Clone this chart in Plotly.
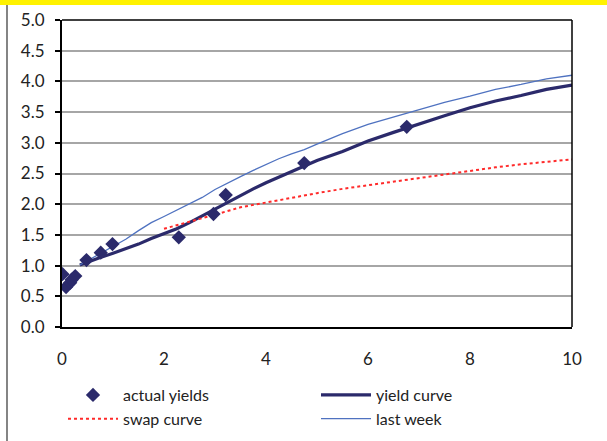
import plotly.graph_objects as go

# actual yields (scatter points)
actual_x = [0.01, 0.08, 0.16, 0.19, 0.26, 0.48, 0.76, 0.99, 2.29, 2.97, 3.21, 4.75, 6.76]
actual_y = [0.86, 0.65, 0.72, 0.77, 0.83, 1.09, 1.21, 1.35, 1.46, 1.84, 2.15, 2.67, 3.26]

# fitted yield curve
curve_x = [0.35, 0.5, 0.75, 1.0, 1.25, 1.5, 1.75, 2.0, 2.25, 2.5, 2.75, 3.0, 3.25, 3.5, 3.75,
           4.0, 4.25, 4.5, 4.75, 5.0, 5.5, 6.0, 6.5, 7.0, 7.5, 8.0, 8.5, 9.0, 9.5, 10.0]
yield_curve = [1.01, 1.06, 1.13, 1.20, 1.27, 1.35, 1.44, 1.52, 1.60, 1.70, 1.81, 1.92, 2.04, 2.15, 2.25,
               2.35, 2.44, 2.53, 2.63, 2.71, 2.86, 3.03, 3.17, 3.31, 3.44, 3.57, 3.68, 3.77, 3.87, 3.94]
last_week = [1.01, 1.08, 1.20, 1.31, 1.43, 1.57, 1.70, 1.80, 1.90, 2.00, 2.11, 2.24, 2.35, 2.45, 2.55,
             2.65, 2.74, 2.82, 2.89, 2.98, 3.15, 3.30, 3.42, 3.55, 3.66, 3.76, 3.87, 3.95, 4.04, 4.10]

# swap curve
swap_x = [2.0, 2.5, 3.0, 3.5, 4.0, 4.5, 5.0, 5.5, 6.0, 6.5, 7.0, 7.5, 8.0, 8.5, 9.0, 9.5, 10.0]
swap_y = [1.60, 1.71, 1.83, 1.95, 2.03, 2.10, 2.18, 2.25, 2.31, 2.37, 2.43, 2.48, 2.54, 2.60, 2.65, 2.69, 2.73]

x_ticks = [0, 2, 4, 6, 8, 10]
y_ticks = [0.0, 0.5, 1.0, 1.5, 2.0, 2.5, 3.0, 3.5, 4.0, 4.5, 5.0]

NAVY = "#2B2A6B"
FONT = "Lato"
TXT = "#222222"

W, H = 607, 441
ML, MR, MT, MB = 62, 35, 20, 114
W_plot = W - ML - MR
H_plot = H - MT - MB


def px_to_paper_x(px):
    return (px - ML) / W_plot


def px_to_paper_y(py):
    return (H - MB - py) / H_plot


fig = go.Figure()
fig.add_trace(go.Scatter(x=curve_x, y=yield_curve, mode="lines", name="yield curve",
                         line=dict(color=NAVY, width=3.2), legend="legend2", legendrank=1))
fig.add_trace(go.Scatter(x=swap_x, y=swap_y, mode="lines", name="swap curve",
                         line=dict(color="#FF2A2A", width=2, dash="dot"), legend="legend", legendrank=2))
fig.add_trace(go.Scatter(x=curve_x, y=last_week, mode="lines", name="last week",
                         line=dict(color="#4F72C0", width=1.3), legend="legend2", legendrank=2))
fig.add_trace(go.Scatter(x=actual_x, y=actual_y, mode="markers", name="actual yields",
                         marker=dict(symbol="diamond", size=11, color=NAVY), legend="legend", legendrank=1))

legend_common = dict(orientation="v", xanchor="left", yanchor="top",
                     font=dict(family=FONT, size=16, color=TXT),
                     bgcolor="rgba(0,0,0,0)", itemwidth=50, tracegroupgap=0)

fig.update_layout(
    width=W, height=H,
    margin=dict(l=ML, r=MR, t=MT, b=MB, autoexpand=False),
    paper_bgcolor="white", plot_bgcolor="white",
    font=dict(family=FONT, size=16, color=TXT),
    showlegend=True,
    legend=dict(x=px_to_paper_x(63), y=px_to_paper_y(378), **legend_common),
    legend2=dict(x=px_to_paper_x(316), y=px_to_paper_y(378), **legend_common),
    xaxis=dict(range=[0, 10], tickvals=x_ticks, ticks="", showgrid=False,
               showline=True, linecolor="black", linewidth=2, mirror=False,
               zeroline=False, ticklabelstandoff=16,
               tickfont=dict(family=FONT, size=17, color=TXT)),
    yaxis=dict(range=[0, 5], tickvals=y_ticks, tickformat=".1f", ticks="outside",
               ticklen=5, tickcolor="black", tickwidth=1.5,
               showgrid=True, gridcolor="#A6A6A6", gridwidth=2,
               showline=True, linecolor="black", linewidth=2, zeroline=False,
               ticklabelstandoff=7,
               tickfont=dict(family=FONT, size=17, color=TXT)),
    shapes=[
        dict(type="line", xref="paper", yref="paper", x0=0, x1=1, y0=1, y1=1,
             line=dict(color="black", width=1.5)),
        dict(type="line", xref="paper", yref="paper", x0=1, x1=1, y0=0, y1=1,
             line=dict(color="black", width=1.5)),
        dict(type="rect", xref="paper", yref="paper",
             x0=px_to_paper_x(0), x1=px_to_paper_x(W),
             y0=px_to_paper_y(5), y1=px_to_paper_y(0),
             fillcolor="#FFF200", line=dict(width=0)),
        dict(type="line", xref="paper", yref="paper",
             x0=px_to_paper_x(7), x1=px_to_paper_x(7),
             y0=px_to_paper_y(5), y1=px_to_paper_y(H),
             line=dict(color="#333333", width=1.2)),
    ],
)

fig.write_html("out.html",
               config={"displayModeBar": False},
               post_script="document.body.style.margin='0';document.body.style.padding='0';"
                           "document.body.style.overflow='hidden';")
